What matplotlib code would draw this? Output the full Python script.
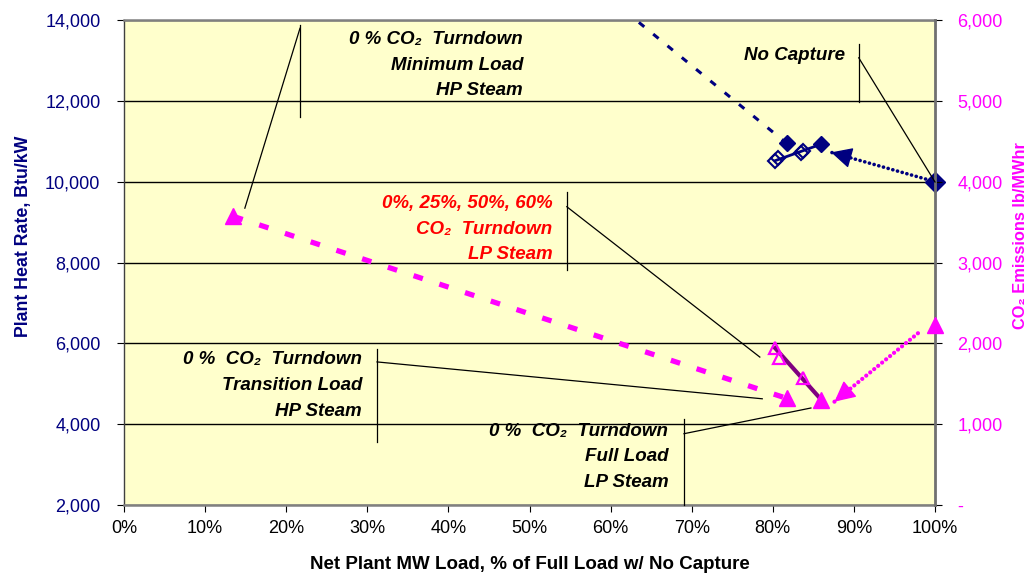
import matplotlib
matplotlib.use("Agg")
import matplotlib.pyplot as plt
from matplotlib.ticker import FuncFormatter, MultipleLocator

plt.rcParams['font.family'] = ['Liberation Sans', 'DejaVu Sans']
plt.rcParams['lines.scale_dashes'] = False

NAVY = '#000080'
MAG = '#FF00FF'
PURPLE = '#800080'
BG = '#FFFFCC'

# ---- Plant heat rate, Btu/kW (left axis) vs net load, % of full load ----
hr_min_trans_load = [13.5, 81.7]          # minimum load HP steam -> transition load HP steam
hr_min_trans_rate = [22150, 10950]
hr_lp_load = [80.3, 80.7, 83.5, 83.7]     # 25-60 % turndown, LP steam
hr_lp_rate = [10520, 10580, 10700, 10760]
hr_full_load = 86.0                       # 0 % turndown, full load LP steam
hr_full_rate = 10930
hr_nocap_load = 100.0                     # no capture
hr_nocap_rate = 10000

# ---- CO2 emissions, lb/MWhr (right axis) ----
co2_min_trans_load = [13.5, 81.7]
co2_min_trans = [3570, 1320]
co2_lp_load = [80.3, 80.8, 83.7]
co2_lp = [1940, 1820, 1575]
co2_full_load = 86.0
co2_full = 1300
co2_nocap_load = 100.0
co2_nocap = 2230

# trend arrows away from the no-capture case: (start, tip)
hr_arrow = ((100.0, 10000), (87.2, 10725))
co2_arrow = ((97.9, 2125), (87.6, 1278))

x_ticks = list(range(0, 101, 10))

fig = plt.figure(figsize=(10.35, 5.76), dpi=100)
ax = fig.add_axes([124 / 1035, 1 - 505 / 576, 811 / 1035, 485 / 576])
ax.set_facecolor(BG)
ax.set_xlim(0, 100)
ax.set_ylim(2000, 14000)
ax2 = ax.twinx()
ax2.set_ylim(0, 6000)

# grid and frame
ax.set_axisbelow(True)
ax.yaxis.grid(True, color='black', lw=1.0)
for s in ['top', 'bottom']:
    ax.spines[s].set_color('#808080')
    ax.spines[s].set_linewidth(1.8)
ax.spines['left'].set_color('#404040')
ax.spines['left'].set_linewidth(1.0)
ax.spines['right'].set_visible(False)
for s in ['left', 'top', 'bottom']:
    ax2.spines[s].set_visible(False)
ax2.spines['right'].set_color('#707070')
ax2.spines['right'].set_linewidth(2.0)

# ticks
ax.set_xticks(x_ticks)
ax.xaxis.set_major_formatter(FuncFormatter(lambda v, p: f'{v:.0f}%'))
ax.yaxis.set_major_locator(MultipleLocator(2000))
ax.yaxis.set_major_formatter(FuncFormatter(lambda v, p: f'{v:,.0f}'))
ax2.yaxis.set_major_locator(MultipleLocator(1000))
ax2.yaxis.set_major_formatter(FuncFormatter(lambda v, p: '-' if v == 0 else f'{v:,.0f}'))
ax.tick_params(axis='x', direction='out', length=5, pad=6, labelsize=13, color='black', labelcolor='black')
ax.tick_params(axis='y', direction='out', length=5, pad=12, labelsize=13, color='black', labelcolor=NAVY)
ax2.tick_params(axis='y', direction='out', length=5, pad=11, labelsize=13, color='black', labelcolor=MAG)

ax.set_xlabel('Net Plant MW Load, % of Full Load w/ No Capture', fontsize=13.5, fontweight='bold')
ax.xaxis.set_label_coords(0.5, -0.105)
ax.set_ylabel('Plant Heat Rate, Btu/kW', fontsize=12.8, fontweight='bold', color=NAVY)
ax.yaxis.set_label_coords(-0.114, 0.555)
ax2.set_ylabel('CO₂ Emissions lb/MWhr', fontsize=11.8, fontweight='bold', color=MAG, rotation=90)
ax2.yaxis.set_label_coords(1.096, 0.555)


def trend_arrow(axis, start, tip, color, lw, gap):
    axis.plot([start[0], tip[0]], [start[1], tip[1]], color=color, lw=lw,
              ls=(0, (0.1, gap)), dash_capstyle='round', zorder=3)
    f = 0.2
    tail = (tip[0] + f * (start[0] - tip[0]), tip[1] + f * (start[1] - tip[1]))
    axis.annotate('', xy=tip, xytext=tail,
                  arrowprops=dict(arrowstyle='-|>,head_length=1.0,head_width=0.5',
                                  color=color, lw=1.0, shrinkA=0, shrinkB=0,
                                  mutation_scale=13), zorder=4)


# ---- heat rate series ----
ax.plot(hr_min_trans_load, hr_min_trans_rate, color=NAVY, lw=2.2, ls=(0, (5, 8.3)), zorder=3)
ax.plot(hr_min_trans_load[1], hr_min_trans_rate[1], 'D', color=NAVY, ms=8.5, zorder=4)
ax.plot([hr_lp_load[0], hr_full_load], [hr_lp_rate[0], hr_full_rate], color=NAVY, lw=2.0, zorder=3)
ax.plot(hr_lp_load, hr_lp_rate, 'D', ms=7, mfc='none', mec=NAVY, mew=1.5, ls='none', zorder=4)
ax.plot(hr_full_load, hr_full_rate, 'D', color=NAVY, ms=8.5, zorder=4)
trend_arrow(ax, hr_arrow[0], hr_arrow[1], NAVY, 2.6, 3.4)
ax.plot(hr_nocap_load, hr_nocap_rate, 'D', color=NAVY, ms=10, clip_on=False, zorder=5)

# ---- CO2 series ----
ax2.plot(co2_min_trans_load, co2_min_trans, color=MAG, lw=3.8, ls=(0, (7, 12.5)), zorder=3)
ax2.plot(co2_min_trans_load, co2_min_trans, '^', color=MAG, ms=11, ls='none', zorder=4)
ax2.plot([co2_lp_load[0], co2_full_load], [co2_lp[0], co2_full], color=PURPLE, lw=3.0, zorder=3)
ax2.plot(co2_lp_load, co2_lp, '^', ms=9, mfc='none', mec=MAG, mew=1.6, ls='none', zorder=4)
ax2.plot(co2_full_load, co2_full, '^', color=MAG, ms=12, zorder=4)
trend_arrow(ax2, co2_arrow[0], co2_arrow[1], MAG, 3.0, 3.6)
ax2.plot(co2_nocap_load, co2_nocap, '^', color=MAG, ms=12, clip_on=False, zorder=5)

# ---- callouts ----
T = ax2.transAxes
txt_kw = dict(transform=T, ha='right', va='center', fontsize=13.5, fontweight='bold',
              style='italic', linespacing=1.68, multialignment='right', zorder=6)
line_kw = dict(transform=T, color='black', lw=0.9, zorder=6, clip_on=False)

ax2.text(0.492, 0.907, '0 % CO₂  Turndown\nMinimum Load\nHP Steam', color='black', **txt_kw)
ax2.plot([0.217, 0.217], [0.990, 0.800], **line_kw)
ax2.plot([0.217, 0.149], [0.983, 0.612], **line_kw)

ax2.text(0.889, 0.926, 'No Capture', color='black', **txt_kw)
ax2.plot([0.906, 0.906], [0.951, 0.831], **line_kw)
ax2.plot([0.906, 1.0], [0.922, 0.666], **line_kw)

ax2.text(0.528, 0.569, '0%, 25%, 50%, 60%\nCO₂  Turndown\nLP Steam', color='#FF0000', **txt_kw)
ax2.plot([0.546, 0.546], [0.645, 0.485], **line_kw)
ax2.plot([0.546, 0.784], [0.615, 0.305], **line_kw)

ax2.text(0.2935, 0.247, '0 %  CO₂  Turndown\nTransition Load\nHP Steam', color='black', **txt_kw)
ax2.plot([0.312, 0.312], [0.322, 0.130], **line_kw)
ax2.plot([0.312, 0.787], [0.295, 0.219], **line_kw)

ax2.text(0.671, 0.099, '0 %  CO₂  Turndown\nFull Load\nLP Steam', color='black', **txt_kw)
ax2.plot([0.6905, 0.6905], [0.177, 0.0], **line_kw)
ax2.plot([0.6905, 0.847], [0.147, 0.200], **line_kw)

fig.savefig('out.png', dpi=100, facecolor='white')
